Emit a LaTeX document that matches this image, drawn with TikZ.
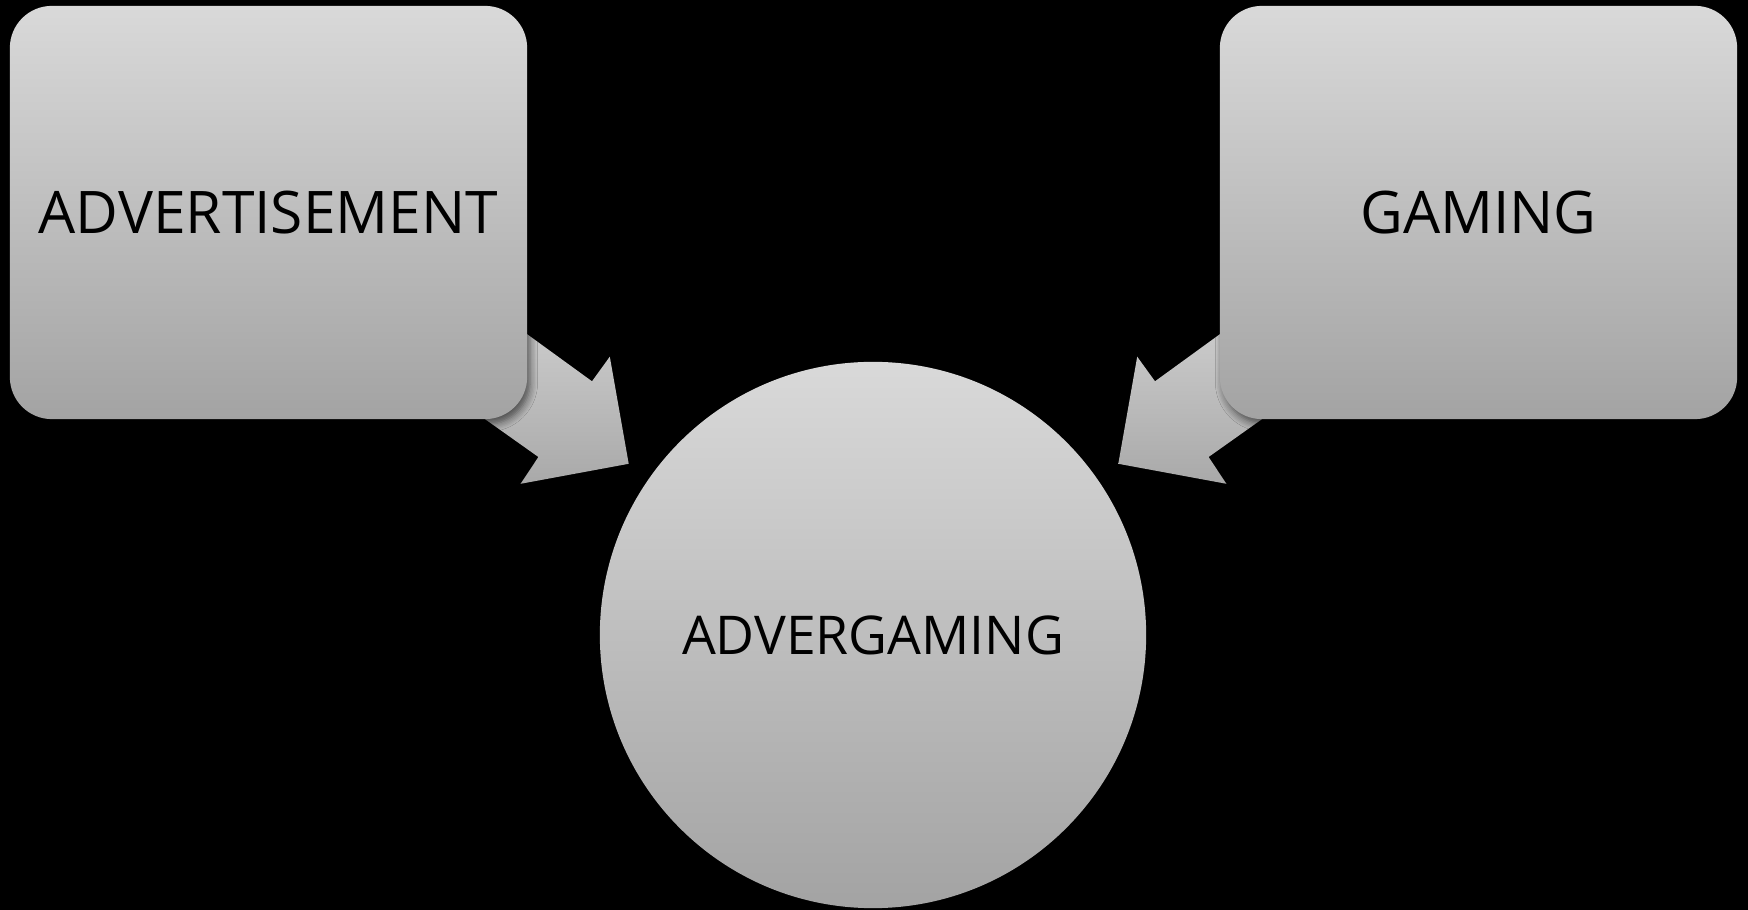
\documentclass[tikz,border=0pt]{standalone}
\usepackage{fontspec}
\setmainfont{Open Sans}
\usetikzlibrary{shadows.blur}
\definecolor{gtop}{HTML}{D9D9D9}
\definecolor{gbot}{HTML}{A3A3A3}
\definecolor{atop}{HTML}{D3D3D3}
\definecolor{abot}{HTML}{A9A9A9}
\begin{document}
\begin{tikzpicture}[x=0.01cm,y=-0.01cm,
  boxnode/.style={rectangle, rounded corners=0.42cm, minimum width=5.17cm,
    minimum height=4.13cm, top color=gtop, bottom color=gbot, inner sep=0pt,
    text=black, font=\fontsize{16.7}{20}\selectfont,
    blur shadow={shadow xshift=0.03cm, shadow yshift=-0.05cm, shadow blur steps=6, shadow opacity=60}},
  circnode/.style={circle, minimum size=5.46cm, inner sep=0pt,
    top color=gtop, bottom color=gbot, text=black,
    font=\fontsize{15.2}{18}\selectfont},
  blockarrow/.style={top color=atop, bottom color=abot, draw=none}]
\fill[black] (0,0) rectangle (1748,910);
\useasboundingbox (0,0) rectangle (1748,910);
% block arrows (drawn first, partly hidden by the boxes)
\path[blockarrow] (469,292) -- (592,381.3) -- (609.8,356.7) -- (628.7,463.8)
  -- (520.6,483.8) -- (538.4,457) -- (427,378) -- cycle;
\path[blockarrow] (1278,292) -- (1155,381.3) -- (1137.2,356.7) -- (1118.3,463.8)
  -- (1226.4,483.8) -- (1208.6,457) -- (1320,378) -- cycle;
% nodes
\node[boxnode] (adv) at (268.5,212.5) {ADVERTISEMENT};
\node[boxnode] (gam) at (1478.5,212.5) {GAMING};
\node[circnode] (advg) at (873,635) {ADVERGAMING};
\end{tikzpicture}
\end{document}
